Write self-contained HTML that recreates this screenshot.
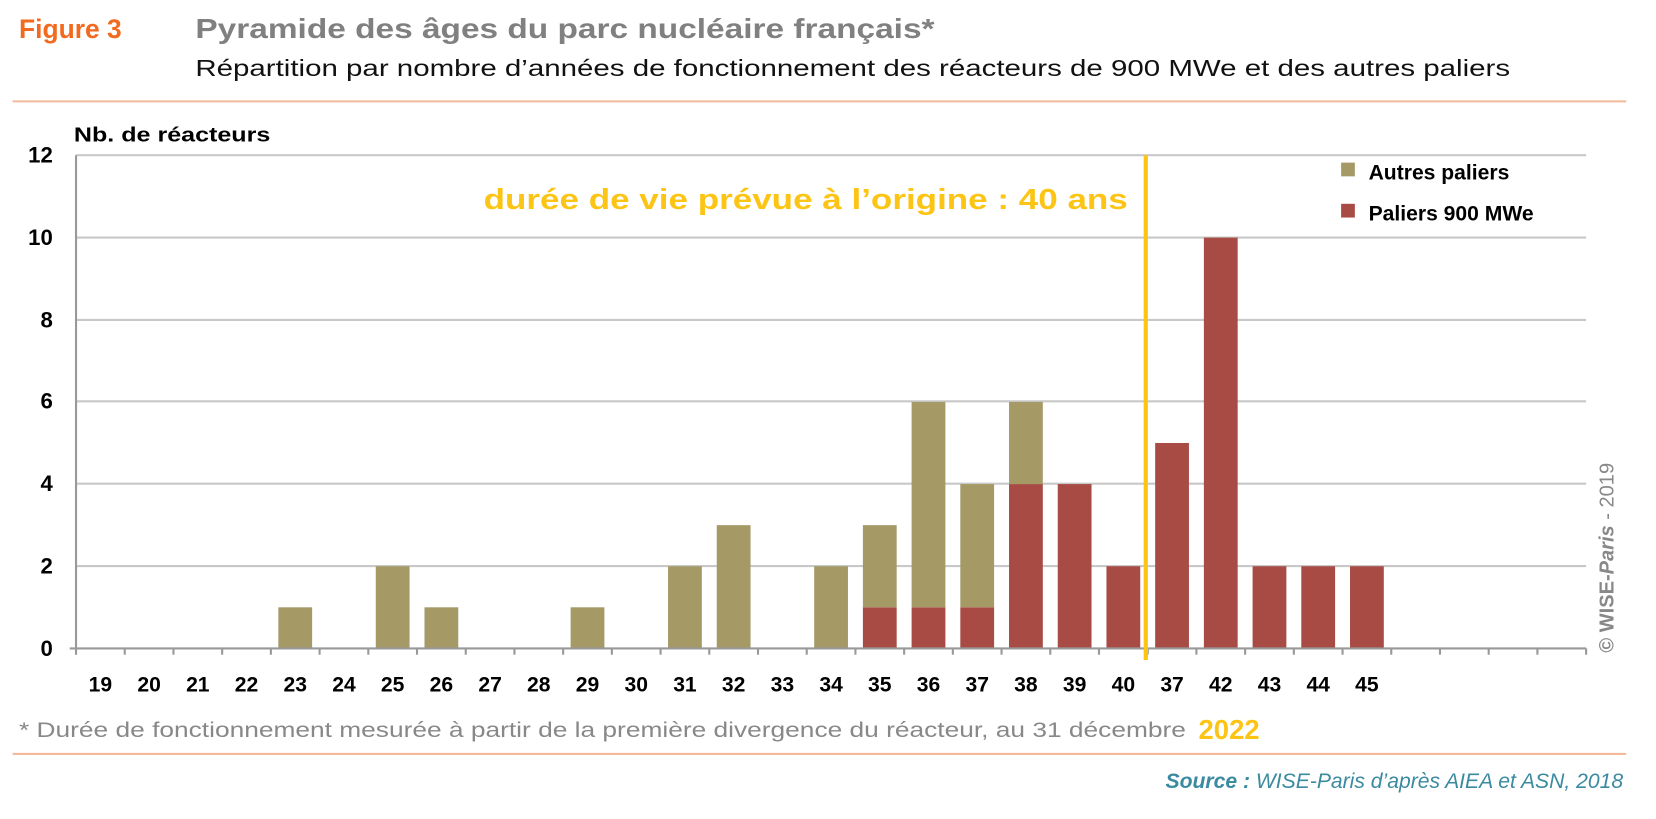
<!DOCTYPE html>
<html><head><meta charset="utf-8"><style>
body{margin:0;background:#fff;width:1656px;height:814px;overflow:hidden}
svg text{font-family:"Liberation Sans",sans-serif}
</style></head><body>
<svg width="1656" height="814" xmlns="http://www.w3.org/2000/svg">
<g transform="scale(1.056)">
<text x="18" y="36" font-size="25" font-weight="bold" fill="#f26a1f">Figure 3</text>
<text x="185" y="36" font-size="26" font-weight="bold" fill="#808080" textLength="700" lengthAdjust="spacingAndGlyphs">Pyramide des âges du parc nucléaire français*</text>
<text x="185" y="72" font-size="22" fill="#111" textLength="1245" lengthAdjust="spacingAndGlyphs">Répartition par nombre d’années de fonctionnement des réacteurs de 900 MWe et des autres paliers</text>
<line x1="12" y1="96" x2="1540" y2="96" stroke="#f4b89a" stroke-width="2"/>
<text x="70" y="134" font-size="19" font-weight="bold" fill="#000" textLength="186" lengthAdjust="spacingAndGlyphs">Nb. de réacteurs</text>
<g stroke="#c8c8c8" stroke-width="2">
<line x1="72" y1="147" x2="1502" y2="147"/><line x1="72" y1="225" x2="1502" y2="225"/>
<line x1="72" y1="303" x2="1502" y2="303"/><line x1="72" y1="380" x2="1502" y2="380"/>
<line x1="72" y1="458" x2="1502" y2="458"/><line x1="72" y1="536" x2="1502" y2="536"/>
</g>
<g font-size="21" font-weight="bold" text-anchor="end" fill="#000">
<text x="50" y="154">12</text><text x="50" y="232">10</text><text x="50" y="310">8</text>
<text x="50" y="387">6</text><text x="50" y="465">4</text><text x="50" y="543">2</text><text x="50" y="621">0</text>
</g>
<g id="bars"></g>
<line x1="72" y1="147" x2="72" y2="620" stroke="#999" stroke-width="2"/>
<line x1="66" y1="614" x2="1502" y2="614" stroke="#999" stroke-width="2"/>
<g id="ticks" stroke="#999" stroke-width="2"></g>
<g id="labels" font-size="20" font-weight="bold" text-anchor="middle" fill="#000"></g>
<line x1="1085" y1="147" x2="1085" y2="625" stroke="#fcc515" stroke-width="4"/>
<text x="458" y="198" font-size="27" font-weight="bold" fill="#fcc515" textLength="610" lengthAdjust="spacingAndGlyphs">durée de vie prévue à l’origine : 40 ans</text>
<rect x="1270" y="154" width="13" height="13" fill="#a59a66"/>
<text x="1296" y="170" font-size="20" font-weight="bold">Autres paliers</text>
<rect x="1270" y="193" width="13" height="13" fill="#a84b45"/>
<text x="1296" y="209" font-size="20" font-weight="bold">Paliers 900 MWe</text>
<text transform="translate(1528,618) rotate(-90)" font-size="19" fill="#888"><tspan font-weight="bold">© WISE-</tspan><tspan font-weight="bold" font-style="italic">Paris</tspan><tspan> - 2019</tspan></text>
<text x="18" y="698" font-size="20" fill="#888" textLength="1105" lengthAdjust="spacingAndGlyphs">*  Durée de fonctionnement mesurée à partir de la première divergence du réacteur, au 31 décembre</text>
<text x="1135" y="700" font-size="26" font-weight="bold" fill="#fcc515">2022</text>
<line x1="12" y1="714" x2="1540" y2="714" stroke="#f4b89a" stroke-width="2"/>
<text x="1537" y="746" font-size="20" font-style="italic" fill="#3a8aa0" text-anchor="end"><tspan font-weight="bold">Source : </tspan>WISE-Paris d’après AIEA et ASN, 2018</text>
</g>
</svg>
<script>
var lab=["19","20","21","22","23","24","25","26","27","28","29","30","31","32","33","34","35","36","37","38","39","40","37","42","43","44","45","","","",""];
var A=[0,0,0,0,1,0,2,1,0,0,1,0,2,3,0,2,2,5,3,2,0,0,0,0,0,0,0];
var R=[0,0,0,0,0,0,0,0,0,0,0,0,0,0,0,0,1,1,1,4,4,2,5,10,2,2,2];
var ns="http://www.w3.org/2000/svg",w=1430/31,u=38.9,y0=614;
function el(p,t,a){var e=document.createElementNS(ns,t);for(var k in a)e.setAttribute(k,a[k]);document.getElementById(p).appendChild(e);return e;}
for(var i=0;i<31;i++){
 var cx=72+w*(i+.5);
 el("ticks","line",{x1:72+w*(i+1),y1:614,x2:72+w*(i+1),y2:620});
 var t=el("labels","text",{x:cx,y:655});t.textContent=lab[i];
 if(i<27){var r=R[i]||0,a=A[i]||0;
  if(r)el("bars","rect",{x:cx-16,y:y0-r*u,width:32,height:r*u,fill:"#a84b45"});
  if(a)el("bars","rect",{x:cx-16,y:y0-(r+a)*u,width:32,height:a*u,fill:"#a59a66"});}
}
</script>
</body></html>
